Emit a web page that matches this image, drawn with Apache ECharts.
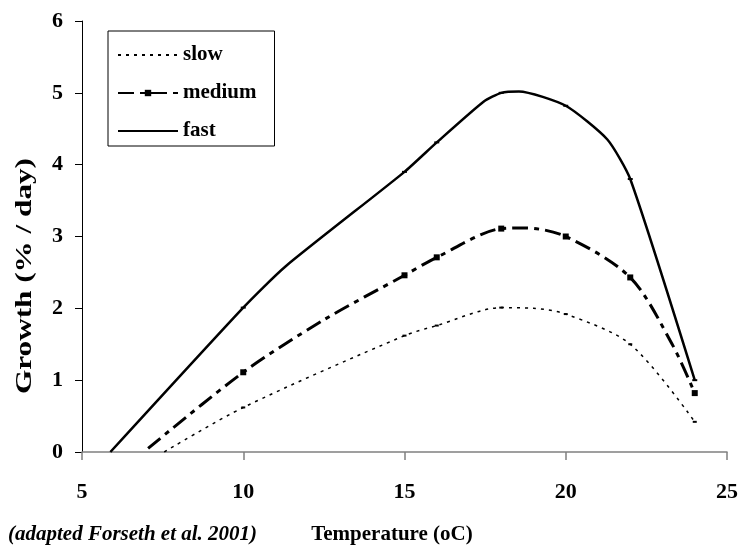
<!DOCTYPE html>
<html lang="en">
<head>
    <meta charset="UTF-8">
    <title>Growth vs Temperature</title>
    <script src="https://cdn.jsdelivr.net/npm/echarts@6/dist/echarts.min.js"></script>
    <style>
        body, html { margin: 0; padding: 0; background: #fff; }
        #chart { width: 741px; height: 546px; }
    </style>
</head>
<body>
    <div id="chart"></div>
    <script>
        // data (mark = 1 where the original shows a marker)
        var seriesNames = ['slow', 'medium', 'fast'];
        var slowT = [7.55, 10, 15, 16, 18, 19, 20, 22, 24];
        var slowG = [0, 0.62, 1.62, 1.76, 2.01, 2.0, 1.92, 1.5, 0.42];
        var slowMark = [0, 1, 1, 1, 1, 0, 1, 1, 1];
        var mediumT = [7.05, 10, 12.5, 15, 16, 18, 18.7, 20, 22, 23.3, 24];
        var mediumG = [0.05, 1.11, 1.84, 2.46, 2.71, 3.11, 3.12, 3.0, 2.43, 1.5, 0.82];
        var mediumMark = [0, 1, 0, 1, 1, 1, 0, 1, 1, 0, 1];
        var fastT = [5.88, 10, 11.3, 15, 16, 17.46, 18, 18.55, 20, 21.29, 22, 24];
        var fastG = [0, 2.01, 2.58, 3.9, 4.31, 4.88, 5.0, 5.02, 4.82, 4.35, 3.8, 1.0];
        var fastMark = [0, 1, 0, 1, 1, 0, 1, 0, 1, 0, 1, 1];
        var xTicks = [5, 10, 15, 20, 25];
        var yTicks = [0, 1, 2, 3, 4, 5, 6];

        function points(xs, ys, marks) {
            return xs.map(function (x, i) {
                return { value: [x, ys[i]], symbol: marks[i] ? undefined : 'none' };
            });
        }

        var serif = '"Liberation Serif", "Times New Roman", serif';
        var hidden = { color: 'rgba(0,0,0,0)', borderWidth: 0 };

        var option = {
            backgroundColor: '#fff',
            animation: false,
            grid: { left: 82, right: 14, top: 21, bottom: 94, outerBoundsMode: 'none' },
            legend: {
                data: [
                    { name: 'slow', itemStyle: hidden },
                    { name: 'medium' },
                    { name: 'fast', itemStyle: hidden }
                ],
                orient: 'vertical',
                left: 108,
                top: 31,
                itemWidth: 60,
                itemHeight: 8,
                itemGap: 16,
                padding: [13, 18, 4, 9],
                borderColor: '#000',
                borderWidth: 1,
                backgroundColor: '#fff',
                textStyle: { fontFamily: serif, fontWeight: 'bold', fontSize: 21, color: '#000', lineHeight: 22 }
            },
            xAxis: {
                type: 'value',
                min: xTicks[0],
                max: xTicks[xTicks.length - 1],
                interval: 5,
                name: 'Temperature (oC)',
                nameLocation: 'middle',
                nameGap: 72,
                nameTextStyle: { fontFamily: serif, fontWeight: 'bold', fontSize: 21, color: '#000', padding: [0, 25, 0, 0] },
                axisLine: { lineStyle: { color: '#808080', width: 1.5 } },
                axisTick: { length: 8, lineStyle: { color: '#808080', width: 1.5 } },
                axisLabel: { fontFamily: serif, fontWeight: 'bold', fontSize: 22, color: '#000', margin: 29 },
                splitLine: { show: false }
            },
            yAxis: {
                type: 'value',
                min: yTicks[0],
                max: yTicks[yTicks.length - 1],
                interval: 1,
                axisLine: { show: true, lineStyle: { color: '#000', width: 1 } },
                axisTick: { show: true, length: 7, lineStyle: { color: '#000' } },
                axisLabel: { fontFamily: serif, fontWeight: 'bold', fontSize: 22, color: '#000', margin: 19 },
                splitLine: { show: false }
            },
            graphic: [
                {
                    type: 'text',
                    left: 8,
                    top: 524,
                    style: {
                        text: '(adapted Forseth et al. 2001)',
                        font: 'italic bold 21px ' + serif,
                        fill: '#000'
                    }
                },
                {
                    type: 'text',
                    x: 25,
                    y: 276,
                    rotation: Math.PI / 2,
                    scaleX: 1.3,
                    style: {
                        text: 'Growth (% / day)',
                        font: 'bold 24px ' + serif,
                        fill: '#000',
                        align: 'center',
                        verticalAlign: 'middle'
                    }
                }
            ],
            series: [
                {
                    name: 'slow',
                    type: 'line',
                    smooth: 0.3,
                    data: points(slowT, slowG, slowMark),
                    symbol: 'rect',
                    symbolSize: [4, 2],
                    itemStyle: { color: '#000' },
                    lineStyle: { color: '#000', width: 1.5, type: [3, 5] }
                },
                {
                    name: 'medium',
                    type: 'line',
                    smooth: 0.3,
                    data: points(mediumT, mediumG, mediumMark),
                    symbol: 'rect',
                    symbolSize: 6,
                    itemStyle: { color: '#000' },
                    lineStyle: { color: '#000', width: 3, type: [16, 6, 5, 6] }
                },
                {
                    name: 'fast',
                    type: 'line',
                    smooth: 0.2,
                    data: points(fastT, fastG, fastMark),
                    symbol: 'rect',
                    symbolSize: [5, 2],
                    itemStyle: { color: '#000' },
                    lineStyle: { color: '#000', width: 2.5 }
                }
            ]
        };

        var chart = echarts.init(document.getElementById('chart'));
        chart.setOption(option);
    </script>
</body>
</html>
